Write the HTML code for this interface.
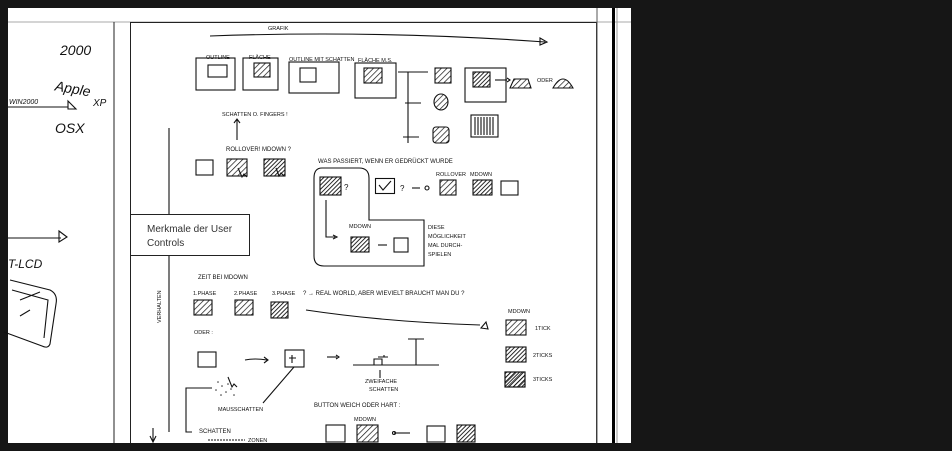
<!DOCTYPE html>
<html><head><style>
body{margin:0;background:#161616;width:952px;height:451px;overflow:hidden;font-family:"Liberation Sans",sans-serif}
</style></head><body>
<svg width="952" height="451" viewBox="0 0 952 451" xmlns="http://www.w3.org/2000/svg" style="position:absolute;left:0;top:0">
<defs>
<pattern id="h" width="4" height="4" patternUnits="userSpaceOnUse" patternTransform="rotate(45)"><line x1="0" y1="0" x2="0" y2="4" stroke="#111" stroke-width="1.4"/></pattern>
<pattern id="h2" width="3" height="3" patternUnits="userSpaceOnUse" patternTransform="rotate(45)"><line x1="0" y1="0" x2="0" y2="3" stroke="#111" stroke-width="1.8"/></pattern>
</defs>
<rect x="8" y="8" width="623" height="435" fill="#fff"/>
<g stroke="#222" fill="none" stroke-width="1">
<line x1="8" y1="22" x2="631" y2="22" stroke="#aaa"/>
<line x1="114" y1="22" x2="114" y2="443"/>
<rect x="130.5" y="22.5" width="466" height="421"/>
<line x1="597" y1="8" x2="597" y2="443" stroke="#555"/>
<line x1="613.5" y1="8" x2="613.5" y2="443" stroke="#000" stroke-width="3"/>
<line x1="617" y1="8" x2="617" y2="443" stroke="#999"/>
</g>
<g stroke="#111" fill="none" stroke-width="1.1">
<!-- grafik arrow -->
<path d="M210 36 Q380 30 545 42"/><path d="M540 38 l7 4 -7 3z"/>
<!-- top row -->
<rect x="196" y="58" width="39" height="32"/><rect x="208" y="65" width="19" height="12"/>
<rect x="243" y="58" width="35" height="32"/><rect x="254" y="63" width="16" height="14" fill="url(#h)"/>
<rect x="289" y="62" width="50" height="31"/><rect x="300" y="68" width="16" height="14"/>
<rect x="355" y="63" width="41" height="35"/><rect x="364" y="68" width="18" height="15" fill="url(#h)"/>
<path d="M398 72h30M408 72v71M405 103h16M403 137h16"/>
<rect x="435" y="68" width="16" height="15" fill="url(#h)"/><ellipse cx="441" cy="102" rx="7" ry="8" fill="url(#h)"/><rect x="433" y="127" width="16" height="16" rx="3" fill="url(#h)"/>
<rect x="465" y="68" width="41" height="34"/><rect x="473" y="72" width="17" height="15" fill="url(#h2)"/>
<rect x="471" y="115" width="27" height="22"/><path d="M475 117v18M478 117v18M481 117v18M484 117v18M487 117v18M490 117v18M493 117v18"/>
<path d="M495 80h12"/><path d="M507 78l3 2-3 2"/>
<path d="M510 88l4-9h14l3 9z" fill="url(#h)"/><path d="M553 88q10-18 20 0z" fill="url(#h)"/>
<!-- fingers -->
<path d="M237 140v-20"/><path d="M234 123l3-4 3 4"/>
<path d="M169 128V432"/>
<rect x="196" y="160" width="17" height="15"/><rect x="227" y="159" width="20" height="17" fill="url(#h)"/><rect x="264" y="159" width="21" height="17" fill="url(#h2)"/>
<path d="M238 168l4 9 2-3 3 3"/><path d="M276 168l3 8 2-3 3 3"/>
<!-- was passiert -->
<rect x="320" y="177" width="21" height="18" fill="url(#h2)"/>
<rect x="375.5" y="178.5" width="19" height="15"/><path d="M379 185l4 5 8-9"/>
<path d="M412 188h8"/><circle cx="427" cy="188" r="2"/>
<rect x="440" y="180" width="16" height="15" fill="url(#h)"/><rect x="473" y="180" width="19" height="15" fill="url(#h2)"/><rect x="501" y="181" width="17" height="14"/>
<path d="M322 168q-8 0-8 10v78q0 10 10 10h100v-46h-55v-42q0-10-10-10z"/>
<path d="M326 200v37h9"/><path d="M333 235l4 2-4 2"/>
<rect x="351" y="237" width="18" height="15" fill="url(#h2)"/><path d="M378 245h9"/><rect x="394" y="238" width="14" height="14"/>
<!-- zeit bei mdown -->
<rect x="194" y="300" width="18" height="15" fill="url(#h)"/><rect x="235" y="300" width="18" height="15" fill="url(#h)"/><rect x="271" y="302" width="17" height="16" fill="url(#h2)"/>
<path d="M306 310q80 12 174 15"/><path d="M481 328l5-6 2 7z"/>
<rect x="506" y="320" width="20" height="15" fill="url(#h)"/><rect x="506" y="347" width="20" height="15" fill="url(#h2)"/><rect x="505" y="372" width="20" height="15" fill="url(#h2)"/><rect x="505" y="372" width="20" height="15" fill="url(#h)"/>
<rect x="198" y="352" width="18" height="15"/>
<path d="M245 360q10-2 22 0"/><path d="M264 357l4 3-4 3"/>
<rect x="285" y="350" width="19" height="17"/><path d="M292 355v8M289 358h7"/>
<path d="M327 357h10"/><path d="M336 355l3 2-3 2"/>
<path d="M353 365h86M374 365v-6h8v6M378 357h10M384 355v2M416 365v-26M408 339h16"/>
<path d="M380 370v8"/>
<path d="M263 403l31-36"/>
<g fill="#333" stroke="none"><circle cx="218" cy="382" r=".8"/><circle cx="222" cy="386" r=".8"/><circle cx="216" cy="390" r=".8"/><circle cx="226" cy="392" r=".8"/><circle cx="221" cy="395" r=".8"/><circle cx="231" cy="389" r=".8"/><circle cx="234" cy="395" r=".8"/><circle cx="228" cy="384" r=".8"/></g>
<path d="M228 377l4 10 2-3 3 3"/>
<path d="M212 388h-26v44h6"/>
<rect x="326" y="425" width="19" height="17"/><rect x="357" y="425" width="21" height="17" fill="url(#h)"/><path d="M394 433h16"/><circle cx="394" cy="433" r="1.5"/><rect x="427" y="426" width="18" height="16"/><rect x="457" y="425" width="18" height="17" fill="url(#h2)"/>
<path d="M208 440h37" stroke-dasharray="2 1"/>
<path d="M153 428v14M150 436l3 6 3-6"/>
<!-- left page -->
<path d="M8 107h60"/><path d="M68 101l8 8h-8z"/>
<path d="M8 238h53"/><path d="M59 231l8 6-8 5z"/>
<path d="M10 280l40 10q8 4 6 14l-6 40q-2 5-8 2l-38-14M12 290l36 10l-4 38M20 300l20-8M30 310l-10 6"/>
</g>
<g font-family="Liberation Sans,sans-serif" fill="#111" font-size="5.5">
<text x="268" y="30">GRAFIK</text><text x="206" y="59">OUTLINE</text><text x="249" y="59">FLÄCHE</text><text x="289" y="61">OUTLINE MIT SCHATTEN</text><text x="358" y="62">FLÄCHE M.S.</text>
<text x="537" y="82">ODER</text><text x="222" y="116">SCHATTEN O. FINGERS !</text><text x="226" y="151" font-size="6">ROLLOVER! MDOWN ?</text>
<text x="318" y="163" font-size="6">WAS PASSIERT, WENN ER GEDRÜCKT WURDE</text><text x="344" y="190" font-size="8">?</text><text x="400" y="191" font-size="8">?</text><text x="436" y="176">ROLLOVER</text><text x="470" y="176">MDOWN</text>
<text x="349" y="228">MDOWN</text><text x="428" y="229">DIESE</text><text x="428" y="238">MÖGLICHKEIT</text><text x="428" y="247">MAL DURCH-</text><text x="428" y="256">SPIELEN</text>
<text x="198" y="279" font-size="6">ZEIT BEI MDOWN</text><text x="193" y="295">1.PHASE</text><text x="234" y="295">2.PHASE</text><text x="272" y="295">3.PHASE</text>
<text x="303" y="295" font-size="6">? → REAL WORLD, ABER WIEVIELT BRAUCHT MAN DU ?</text>
<text x="194" y="334">ODER :</text><text x="508" y="313">MDOWN</text><text x="535" y="330">1TICK</text><text x="533" y="357">2TICKS</text><text x="533" y="381">3TICKS</text>
<text x="365" y="383">ZWEIFACHE</text><text x="369" y="391">SCHATTEN</text><text x="218" y="411">MAUSSCHATTEN</text>
<text x="314" y="407" font-size="6">BUTTON WEICH ODER HART :</text><text x="354" y="421">MDOWN</text>
<text x="199" y="433" font-size="6">SCHATTEN</text><text x="248" y="442">ZONEN</text>
<text x="0" y="0" transform="translate(161 323) rotate(-90)">VERHALTEN</text>
</g>
<g font-family="Liberation Sans,sans-serif" fill="#111" font-style="italic">
<text x="60" y="55" font-size="14">2000</text><text x="55" y="93" font-size="14" transform="rotate(10 70 88)">Apple</text><text x="93" y="106" font-size="10">XP</text>
<text x="9" y="104" font-size="7">WIN2000</text><text x="55" y="133" font-size="14">OSX</text><text x="8" y="268" font-size="12">T-LCD</text>
</g>
<rect x="130.5" y="214.5" width="119" height="41" fill="#fff" stroke="#222"/>
<text x="147" y="232" font-size="10" fill="#333" font-family="Liberation Sans,sans-serif">Merkmale der User</text>
<text x="147" y="246" font-size="10" fill="#333" font-family="Liberation Sans,sans-serif">Controls</text>
<rect x="0" y="443" width="952" height="8" fill="#161616"/>
</svg>
</body></html>
